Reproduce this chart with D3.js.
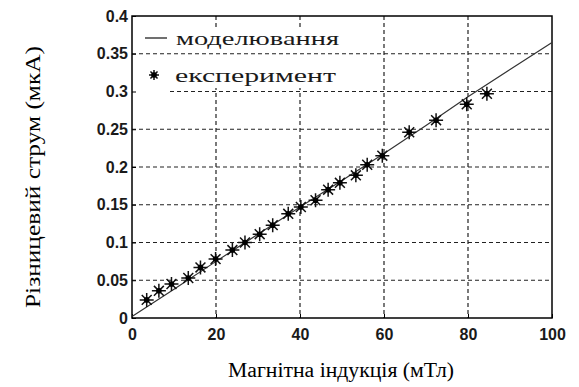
<!DOCTYPE html>
<html>
<head>
<meta charset="utf-8">
<script src="https://cdn.jsdelivr.net/npm/d3@7"></script>
<style>
  body { margin: 0; background: #fff; }
  svg { display: block; }
</style>
</head>
<body>
<svg></svg>
<script>
// experiment points (mT, uA)
var expX = [3.5, 6.4, 9.4, 13.4, 16.3, 19.9, 23.9, 26.9, 30.4, 33.5, 37.2, 40.2, 43.7, 46.7, 49.5, 53.3, 56.0, 59.6, 66.0, 72.4, 79.7, 84.5];
var expY = [0.024, 0.036, 0.045, 0.053, 0.067, 0.078, 0.090, 0.100, 0.111, 0.123, 0.138, 0.147, 0.156, 0.170, 0.179, 0.189, 0.203, 0.215, 0.246, 0.262, 0.283, 0.297];
// model line
var modelX = [0, 10, 20, 30, 40, 50, 60, 70, 80, 90, 100];
var modelY = [0.002, 0.038, 0.075, 0.111, 0.147, 0.182, 0.218, 0.255, 0.293, 0.329, 0.365];

var xTicks = [0, 20, 40, 60, 80, 100];
var yTicks = [0, 0.05, 0.1, 0.15, 0.2, 0.25, 0.3, 0.35, 0.4];
var legendLabels = ["моделювання", "експеримент"];

var svgWidth = 579, svgHeight = 387;
var pLeft = 132, pRight = 552, pTop = 16, pBottom = 318;
var serif = "Liberation Serif, DejaVu Serif, serif";

var svg = d3.select("svg")
            .attr("width", svgWidth)
            .attr("height", svgHeight);

var x = d3.scaleLinear().domain([0, 100]).range([pLeft, pRight]);
var y = d3.scaleLinear().domain([0, 0.4]).range([pBottom, pTop]);

// vertical grid
svg.append("g")
   .selectAll("line")
   .data(xTicks.slice(1, -1))
   .enter()
   .append("line")
   .attr("x1", function(d) {return x(d);})
   .attr("x2", function(d) {return x(d);})
   .attr("y1", pTop)
   .attr("y2", pBottom)
   .attr("stroke", "#222")
   .attr("stroke-width", 1.2)
   .attr("stroke-dasharray", "4,3");

// legend background hides the vertical grid
svg.append("rect")
   .attr("x", pLeft + 1).attr("y", 28)
   .attr("width", 215).attr("height", 60)
   .attr("fill", "#fff");

// horizontal grid
svg.append("g")
   .selectAll("line")
   .data(yTicks.slice(1, -1))
   .enter()
   .append("line")
   .attr("x1", function(d) {return d == 0.3 ? 170 : pLeft;})
   .attr("x2", pRight)
   .attr("y1", function(d) {return y(d);})
   .attr("y2", function(d) {return y(d);})
   .attr("stroke", "#222")
   .attr("stroke-width", 1.2)
   .attr("stroke-dasharray", "4,3");

// axes (ticks pointing inside, as in matlab)
var xAxis = d3.axisBottom(x).tickValues(xTicks).tickSizeInner(-4).tickSizeOuter(0).tickPadding(8);
var yAxis = d3.axisLeft(y).tickValues(yTicks).tickSizeInner(-4).tickSizeOuter(0).tickPadding(7)
              .tickFormat(function(d) {return String(+d.toFixed(2));});

var gx = svg.append("g").attr("transform", "translate(0," + pBottom + ")").call(xAxis);
var gy = svg.append("g").attr("transform", "translate(" + pLeft + ",0)").call(yAxis);

[gx, gy].forEach(function(g) {
  g.select(".domain").remove();
  g.selectAll("line").attr("stroke", "#000");
  g.selectAll("text")
   .attr("fill", "#1a1a1a")
   .attr("font-family", "Liberation Sans, Arial, sans-serif")
   .attr("font-size", 16)
   .attr("font-weight", "bold");
});
gx.selectAll("text").attr("dy", "0.9em");
gy.selectAll("text").attr("dx", "3px");

// frame
svg.append("rect")
   .attr("x", pLeft).attr("y", pTop)
   .attr("width", pRight - pLeft).attr("height", pBottom - pTop)
   .attr("fill", "none")
   .attr("stroke", "#000")
   .attr("stroke-width", 1.5);

// model line
var line = d3.line()
             .x(function(d) {return x(d[0]);})
             .y(function(d) {return y(d[1]);});

svg.append("path")
   .datum(modelX.map(function(d, i) {return [d, modelY[i]];}))
   .attr("d", line)
   .attr("fill", "none")
   .attr("stroke", "#333")
   .attr("stroke-width", 1.2);

// asterisk marker
function star(g, cx, cy, r) {
  var p = "";
  [0, 45, 90, 135].forEach(function(a) {
    var dx = r * Math.cos(a * Math.PI / 180), dy = r * Math.sin(a * Math.PI / 180);
    p += "M" + (cx - dx) + "," + (cy - dy) + "L" + (cx + dx) + "," + (cy + dy);
  });
  g.append("path").attr("d", p).attr("stroke", "#111").attr("stroke-width", 1.5);
  g.append("circle").attr("cx", cx).attr("cy", cy).attr("r", 2.8).attr("fill", "#000");
}

var pts = svg.append("g");
expX.forEach(function(d, i) {
  star(pts, x(d), y(expY[i]), 7);
});

// legend
var leg = svg.append("g");
leg.append("line")
   .attr("x1", 145).attr("x2", 167)
   .attr("y1", 38).attr("y2", 38)
   .attr("stroke", "#222").attr("stroke-width", 1.3);
leg.append("text").attr("x", 176).attr("y", 45).attr("textLength", 163).text(legendLabels[0]);
star(leg, 154, 75, 5);
leg.append("text").attr("x", 175).attr("y", 82).attr("textLength", 161).text(legendLabels[1]);
leg.selectAll("text")
   .attr("font-family", serif)
   .attr("font-size", 19)
   .attr("lengthAdjust", "spacingAndGlyphs")
   .attr("fill", "#1a1a1a");

// axis titles
svg.append("text")
   .attr("x", 341).attr("y", 377)
   .attr("text-anchor", "middle")
   .attr("font-family", serif)
   .attr("font-size", 20)
   .attr("textLength", 226)
   .attr("lengthAdjust", "spacingAndGlyphs")
   .text("Магнітна індукція (мТл)");

svg.append("text")
   .attr("transform", "translate(40,177) rotate(-90)")
   .attr("text-anchor", "middle")
   .attr("font-family", serif)
   .attr("font-size", 21)
   .attr("textLength", 262)
   .attr("lengthAdjust", "spacingAndGlyphs")
   .text("Різницевий струм (мкА)");
</script>
</body>
</html>
